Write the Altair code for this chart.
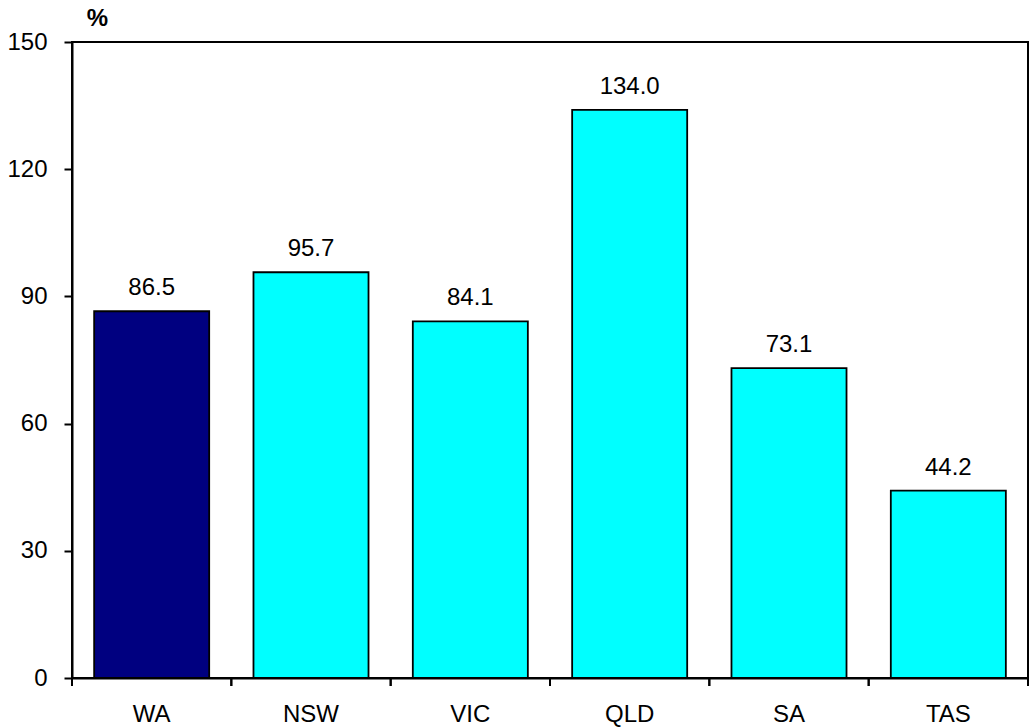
import altair as alt
import pandas as pd

# Data
states = ["WA", "NSW", "VIC", "QLD", "SA", "TAS"]
values = [86.5, 95.7, 84.1, 134.0, 73.1, 44.2]
highlight = ["WA"]
y_ticks = [0, 30, 60, 90, 120, 150]

df = pd.DataFrame({"state": states, "value": values})
df["group"] = ["home" if s in highlight else "other" for s in states]

FONT = "Liberation Sans"
FS = 24
W, H = 956, 636
PAD_INNER = 0.278
step = W / len(states)
gap_half = PAD_INNER / 2 * step

x_scale = alt.Scale(domain=states, paddingInner=PAD_INNER, paddingOuter=PAD_INNER / 2)
y_scale = alt.Scale(domain=[0, 150], nice=False)

x_axis = alt.Axis(
    title=None,
    labelAngle=0,
    ticks=False,
    labelPadding=43,
    labelBaseline="alphabetic",
    labelFontSize=FS,
    labelFont=FONT,
    labelColor="black",
    domainColor="black",
    domainWidth=2,
)
y_axis = alt.Axis(
    values=y_ticks,
    grid=False,
    tickSize=8,
    tickWidth=2,
    tickColor="black",
    domainColor="black",
    domainWidth=2,
    labelPadding=17,
    labelFontSize=FS,
    labelFont=FONT,
    labelColor="black",
    title="%",
    titleAngle=0,
    titleX=25,
    titleY=-17,
    titleAlign="center",
    titleBaseline="alphabetic",
    titleFont=FONT,
    titleFontSize=FS,
    titleFontWeight="bold",
    titleColor="black",
)

base = alt.Chart(df)

bars = base.mark_bar(stroke="black", strokeWidth=1.8).encode(
    x=alt.X("state:N", scale=x_scale, sort=states, axis=x_axis),
    y=alt.Y("value:Q", scale=y_scale, axis=y_axis),
    color=alt.Color(
        "group:N",
        scale=alt.Scale(domain=["home", "other"], range=["#000080", "#00FFFF"]),
        legend=None,
    ),
)

labels = base.mark_text(
    dy=-16, baseline="alphabetic", fontSize=FS, font=FONT, color="black"
).encode(
    x=alt.X("state:N", scale=x_scale, sort=states),
    y=alt.Y("value:Q", scale=y_scale),
    text=alt.Text("value:Q", format=".1f"),
)

# Category separator ticks below the baseline, at slot edges
tick_start = base.mark_rule(color="black", strokeWidth=2, xOffset=-gap_half).encode(
    x=alt.X("state:N", scale=x_scale, sort=states, bandPosition=0),
    y=alt.value(H),
    y2=alt.value(H + 8),
)
tick_end = base.mark_rule(color="black", strokeWidth=2, xOffset=gap_half).encode(
    x=alt.X("state:N", scale=x_scale, sort=states, bandPosition=1),
    y=alt.value(H),
    y2=alt.value(H + 8),
)

chart = (
    alt.layer(bars, labels, tick_start, tick_end)
    .properties(
        width=W,
        height=H,
        autosize=alt.AutoSizeParams(type="none"),
        padding={"left": 72, "top": 42, "right": 5, "bottom": 49},
        background="white",
    )
    .configure_view(stroke="black", strokeWidth=2)
)

chart.save("out.html", embed_options={"renderer": "svg", "actions": False})
